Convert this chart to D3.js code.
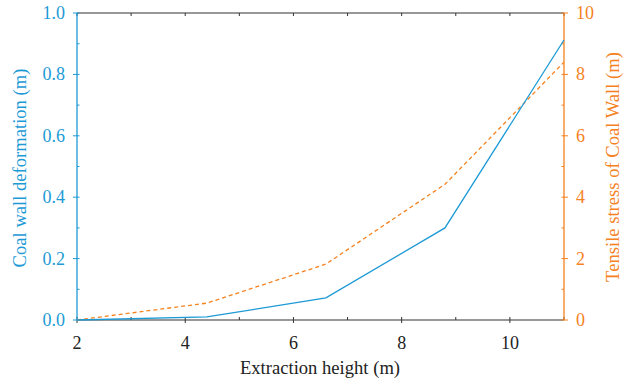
<!DOCTYPE html>
<html><head><meta charset="utf-8">
<script src="https://cdn.jsdelivr.net/npm/d3@7"></script>
<style>body{margin:0;background:#fff}svg{display:block}</style>
</head><body><svg id="c" width="633" height="385"></svg>
<script>
const heights = [2, 4.4, 6.6, 8.8, 11];
const deformation = [0.0, 0.01, 0.072, 0.30, 0.912];
const tensile = [0.0, 0.55, 1.82, 4.42, 8.4];
const xTicks = [2, 4, 6, 8, 10];
const yLeftTicks = [0, 0.2, 0.4, 0.6, 0.8, 1.0];
const yRightTicks = [0, 2, 4, 6, 8, 10];

const FONT = "Liberation Serif";
const blue = "#1c9ad6", orange = "#f5821f", dark = "#333";
const L = 77, R = 564, T = 13, B = 320;
const svg = d3.select("#c");
const x = d3.scaleLinear().domain([2, 11]).range([L, R]);
const yl = d3.scaleLinear().domain([0, 1]).range([B, T]);
const yr = d3.scaleLinear().domain([0, 10]).range([B, T]);
const txt = (fs) => svg.append("text").style("font-family", FONT).attr("font-size", fs);

svg.append("line").attr("x1", L).attr("x2", R).attr("y1", T).attr("y2", T).attr("stroke", dark).attr("stroke-width", 1.2);
svg.append("line").attr("x1", L).attr("x2", R).attr("y1", B).attr("y2", B).attr("stroke", dark).attr("stroke-width", 1.2);

d3.range(2, 11.01, 1).forEach(v => {
  svg.append("line").attr("x1", x(v)).attr("x2", x(v)).attr("y1", B).attr("y2", B - 3).attr("stroke", dark);
  svg.append("line").attr("x1", x(v)).attr("x2", x(v)).attr("y1", T).attr("y2", T + 3).attr("stroke", dark);
});
xTicks.forEach(v => {
  svg.append("line").attr("x1", x(v)).attr("x2", x(v)).attr("y1", B).attr("y2", B + 3).attr("stroke", dark);
  txt(18).attr("x", x(v)).attr("y", 349).attr("text-anchor", "middle").attr("fill", "#222").text(v);
});
txt(18.6).attr("x", 320).attr("y", 374).attr("text-anchor", "middle").attr("fill", "#222").text("Extraction height (m)");

svg.append("line").attr("x1", L).attr("x2", L).attr("y1", T).attr("y2", B).attr("stroke", blue).attr("stroke-width", 1.3);
d3.range(0, 1.001, 0.1).forEach(v => {
  svg.append("line").attr("x1", L).attr("x2", L + 2.5).attr("y1", yl(v)).attr("y2", yl(v)).attr("stroke", blue);
});
yLeftTicks.forEach(v => {
  svg.append("line").attr("x1", L - 4).attr("x2", L).attr("y1", yl(v)).attr("y2", yl(v)).attr("stroke", blue);
  txt(18).attr("x", 65).attr("y", yl(v) + 6).attr("text-anchor", "end").attr("fill", blue).text(d3.format(".1f")(v));
});
txt(18.6).attr("transform", "translate(26,168) rotate(-90)").attr("text-anchor", "middle").attr("fill", blue).text("Coal wall deformation (m)");

svg.append("line").attr("x1", R).attr("x2", R).attr("y1", T).attr("y2", B).attr("stroke", orange).attr("stroke-width", 1.3);
d3.range(0, 10.01, 1).forEach(v => {
  svg.append("line").attr("x1", R - 2.5).attr("x2", R).attr("y1", yr(v)).attr("y2", yr(v)).attr("stroke", orange);
});
yRightTicks.forEach(v => {
  svg.append("line").attr("x1", R).attr("x2", R + 4).attr("y1", yr(v)).attr("y2", yr(v)).attr("stroke", orange);
  txt(18).attr("x", 576).attr("y", yr(v) + 6).attr("text-anchor", "start").attr("fill", orange).text(v);
});
txt(18.6).attr("transform", "translate(619,167) rotate(-90)").attr("text-anchor", "middle").attr("fill", orange).text("Tensile stress of Coal Wall (m)");

const lineL = d3.line().x((d, i) => x(heights[i])).y(d => yl(d));
const lineR = d3.line().x((d, i) => x(heights[i])).y(d => yr(d));
svg.append("path").attr("d", lineR(tensile)).attr("fill", "none").attr("stroke", orange).attr("stroke-width", 1.3).attr("stroke-dasharray", "4,3");
svg.append("path").attr("d", lineL(deformation)).attr("fill", "none").attr("stroke", blue).attr("stroke-width", 1.3);
</script></body></html>
